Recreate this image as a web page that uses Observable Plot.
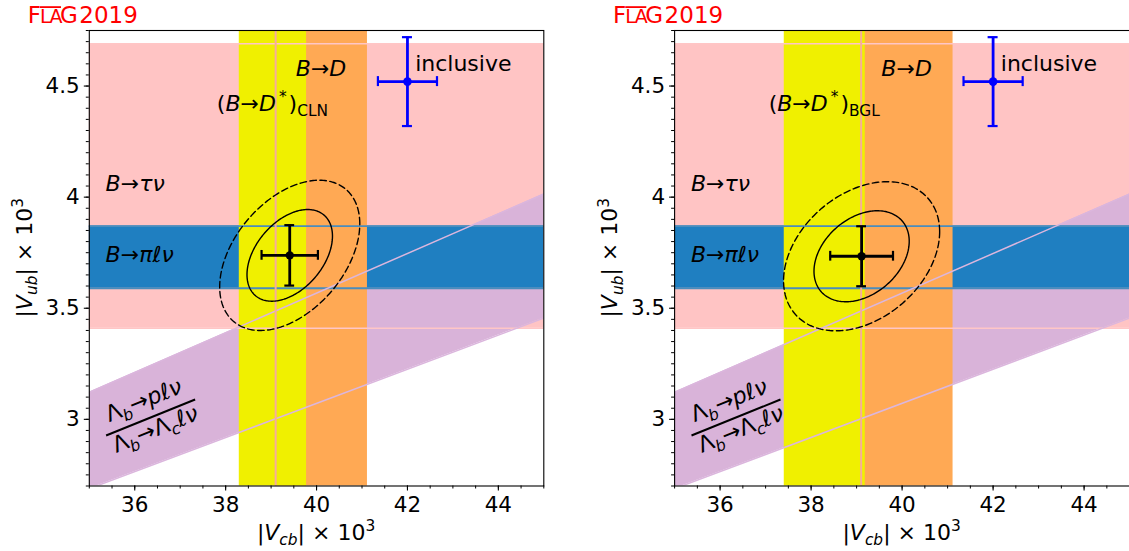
<!DOCTYPE html>
<html><head><meta charset="utf-8">
<script src="https://cdn.jsdelivr.net/npm/d3@7"></script>
<script src="https://cdn.jsdelivr.net/npm/@observablehq/plot@0.6"></script>
<style>
html,body{margin:0;padding:0;background:#fff;overflow:hidden;}
#wrap{position:relative;width:1129px;height:551px;overflow:hidden;}
#wrap svg{position:absolute;top:0;}
</style></head><body><div id="wrap"></div>
<script>
// ---------- data ----------
const xDomain = [35, 45];
const yDomain = [2.7, 4.75];
const xMajorTicks = [36, 38, 40, 42, 44];
const xMajorLabels = ["36", "38", "40", "42", "44"];
const yMajorTicks = [3, 3.5, 4, 4.5];
const yMajorLabels = ["3", "3.5", "4", "4.5"];

const panelNames = ["CLN", "BGL"];
// (B→D*) band per panel (|Vcb| x 1e3)
const bDstarLow = [38.30, 37.41];
const bDstarHigh = [39.78, 39.19];
// B→D band
const bDLow = 39.10, bDHigh = 41.12;
// B→τν and B→πℓν bands (|Vub| x 1e3)
const tauNuLow = 3.41, tauNuHigh = 4.69;
const piLNuLow = 3.59, piLNuHigh = 3.87;
// Λb ratio |Vub|/|Vcb|
const lambdaRatioLow = 0.0768, lambdaRatioHigh = 0.0892;
const lambdaX = [35, 45];
// inclusive point
const inclVcb = 42.00, inclVcbErr = 0.65;
const inclVub = 4.52, inclVubErr = 0.20;
// fit point per panel
const fitVcb = [39.41, 39.11];
const fitVcbErr = [0.62, 0.69];
const fitVub = [3.738, 3.734];
const fitVubErr = [0.136, 0.135];
const fitRho = [0.42, 0.33];
const contourChi2 = [2.30, 6.18];

// ---------- helpers ----------
const FONT = "DejaVu Sans";
function rich(textSel, parts, fs) {
  let shift = 0;
  for (const p of parts) {
    const ts = textSel.append("tspan").text(p.t);
    let target = 0, size = fs;
    if (p.sub) { target = 0.24 * fs; size = 0.7 * fs; }
    if (p.sup) { target = -0.4 * fs; size = 0.7 * fs; }
    if (target !== shift) ts.attr("dy", target - shift);
    shift = target;
    ts.attr("font-size", size);
    if (p.i) ts.attr("font-style", "italic");
    if (p.dx) ts.attr("dx", p.dx);
  }
}
function ellipse(i, chi2) {
  const k = Math.sqrt(chi2), pts = [];
  const r = fitRho[i], s = Math.sqrt(1 - r * r);
  for (let j = 0; j <= 240; j++) {
    const t = 2 * Math.PI * j / 240;
    pts.push({
      x: fitVcb[i] + k * fitVcbErr[i] * Math.cos(t),
      y: fitVub[i] + k * fitVubErr[i] * (r * Math.cos(t) + s * Math.sin(t))
    });
  }
  return pts;
}

function panel(i, width, mLeft, mRight, left) {
  const full = {y1: () => yDomain[0], y2: () => yDomain[1]};
  const fullX = {x1: () => xDomain[0], x2: () => xDomain[1]};
  const cx = fitVcb[i], cy = fitVub[i];
  const p = Plot.plot({
    width, height: 551,
    marginLeft: mLeft, marginRight: mRight, marginTop: 30, marginBottom: 65.5,
    x: {domain: xDomain}, y: {domain: yDomain},
    style: {fontFamily: FONT, fontSize: "21.5px", color: "black", background: "white", overflow: "visible"},
    marks: [
      // bands
      Plot.rect([0], {...fullX, y1: () => tauNuLow, y2: () => tauNuHigh, fill: "#ffc4c4"}),
      Plot.areaY(lambdaX, {x: d => d, y1: d => lambdaRatioLow * d, y2: d => lambdaRatioHigh * d, fill: "#d9b3d9", clip: true}),
      Plot.rect([0], {...fullX, y1: () => piLNuLow, y2: () => piLNuHigh, fill: "#1f7fc1"}),
      Plot.rect([0], {x1: () => bDLow, x2: () => bDHigh, ...full, fill: "#ffa954"}),
      Plot.rect([0], {x1: () => bDstarLow[i], x2: () => bDstarHigh[i], ...full, fill: "#f0f000"}),
      // band edges
      Plot.ruleY([tauNuLow, tauNuHigh], {stroke: "#ffc6c6", strokeWidth: 1.5}),
      Plot.ruleY([piLNuLow, piLNuHigh], {stroke: "#4a8dbd", strokeWidth: 1.8}),
      Plot.line(lambdaX, {x: d => d, y: d => lambdaRatioLow * d, stroke: "#dbb6dd", strokeWidth: 1.5, clip: true}),
      Plot.line(lambdaX, {x: d => d, y: d => lambdaRatioHigh * d, stroke: "#dbb6dd", strokeWidth: 1.5, clip: true}),
      Plot.ruleX([bDLow], {stroke: "#f6ac9c", strokeWidth: 2}),
      // contours
      Plot.line(ellipse(i, contourChi2[0]), {x: "x", y: "y", stroke: "black", strokeWidth: 1.4, clip: true}),
      Plot.line(ellipse(i, contourChi2[1]), {x: "x", y: "y", stroke: "black", strokeWidth: 1.4, strokeDasharray: "6.5,3.5", clip: true}),
      // fit point with error bars
      Plot.ruleX([0], {x: () => cx, y1: () => cy - fitVubErr[i], y2: () => cy + fitVubErr[i], stroke: "black", strokeWidth: 2.8}),
      Plot.ruleY([0], {y: () => cy, x1: () => cx - fitVcbErr[i], x2: () => cx + fitVcbErr[i], stroke: "black", strokeWidth: 2.8}),
      Plot.ruleY([cy - fitVubErr[i], cy + fitVubErr[i]], {y: d => d, x1: () => cx, x2: () => cx, insetLeft: -4.9, insetRight: -4.9, stroke: "black", strokeWidth: 2.2}),
      Plot.ruleX([cx - fitVcbErr[i], cx + fitVcbErr[i]], {x: d => d, y1: () => cy, y2: () => cy, insetTop: -4.9, insetBottom: -4.9, stroke: "black", strokeWidth: 2.2}),
      Plot.dot([0], {x: () => cx, y: () => cy, r: 4.2, fill: "black"}),
      // inclusive point
      Plot.ruleX([0], {x: () => inclVcb, y1: () => inclVub - inclVubErr, y2: () => inclVub + inclVubErr, stroke: "#0000ff", strokeWidth: 2.8}),
      Plot.ruleY([0], {y: () => inclVub, x1: () => inclVcb - inclVcbErr, x2: () => inclVcb + inclVcbErr, stroke: "#0000ff", strokeWidth: 2.8}),
      Plot.ruleY([inclVub - inclVubErr, inclVub + inclVubErr], {y: d => d, x1: () => inclVcb, x2: () => inclVcb, insetLeft: -5, insetRight: -5, stroke: "#0000ff", strokeWidth: 2.2}),
      Plot.ruleX([inclVcb - inclVcbErr, inclVcb + inclVcbErr], {x: d => d, y1: () => inclVub, y2: () => inclVub, insetTop: -5, insetBottom: -5, stroke: "#0000ff", strokeWidth: 2.2}),
      Plot.dot([0], {x: () => inclVcb, y: () => inclVub, r: 4.3, fill: "#0000ff"}),
      // frame & axes
      Plot.frame({stroke: "black", strokeWidth: 1.1}),
      Plot.axisX(d3.range(35, 45.01, 0.5), {tickSize: 3, strokeWidth: 1, fill: "none", label: null}),
      Plot.axisY(d3.range(2.7, 4.7501, 0.05), {tickSize: 3, strokeWidth: 1, fill: "none", label: null}),
      Plot.axisX(xMajorTicks, {tickSize: 5, tickPadding: 5.5, strokeWidth: 1.1, fontSize: 21.5, label: null,
        tickFormat: d => xMajorLabels[xMajorTicks.indexOf(d)]}),
      Plot.axisY(yMajorTicks, {tickSize: 5, tickPadding: 4.5, strokeWidth: 1.1, fontSize: 21.5, label: null,
        tickFormat: d => yMajorLabels[yMajorTicks.indexOf(d)]})
    ]
  });
  p.style.left = left + "px";
  document.getElementById("wrap").appendChild(p);

  const X = p.scale("x"), Y = p.scale("y");
  const svg = d3.select(p);
  const fs = 22;
  function txt(x, y, parts, anchor = "start") {
    const t = svg.append("text").attr("x", X.apply(x)).attr("y", Y.apply(y))
      .attr("text-anchor", anchor).attr("font-family", FONT).attr("font-size", fs).attr("fill", "black");
    rich(t, parts, fs);
    return t;
  }
  // band labels
  txt((bDLow + bDHigh) / 2, 4.545, [{t: "B", i: 1}, {t: "→"}, {t: "D", i: 1}], "middle");
  txt((bDstarLow[i] + bDstarHigh[i]) / 2, 4.385,
    [{t: "("}, {t: "B", i: 1}, {t: "→"}, {t: "D", i: 1}, {t: "*", sup: 1, dx: 3}, {t: ")", dx: 2}, {t: panelNames[i], sub: 1}], "middle");
  txt(42.18, 4.565, [{t: "inclusive"}]);
  txt(35.37, 4.025, [{t: "B", i: 1}, {t: "→"}, {t: "τν", i: 1}]);
  txt(35.37, 3.706, [{t: "B", i: 1}, {t: "→"}, {t: "πℓν", i: 1}]);
  // fraction label
  const g = svg.append("g").attr("transform", `translate(${X.apply(36.36)},${Y.apply(3.006)}) rotate(-22)`)
    .attr("font-family", FONT).attr("font-size", 22.5);
  const num = g.append("text").attr("x", 0).attr("y", -11).attr("text-anchor", "middle");
  rich(num, [{t: "Λ"}, {t: "b", sub: 1, i: 1}, {t: "→"}, {t: "pℓν", i: 1}], 22.5);
  g.append("line").attr("x1", -48).attr("x2", 48).attr("y1", 0).attr("y2", 0).attr("stroke", "black").attr("stroke-width", 2);
  const den = g.append("text").attr("x", 0).attr("y", 20).attr("text-anchor", "middle");
  rich(den, [{t: "Λ"}, {t: "b", sub: 1, i: 1}, {t: "→"}, {t: "Λ"}, {t: "c", sub: 1, i: 1}, {t: "ℓν", i: 1}], 22.5);

  // axis labels
  const xr = X.range, yr = Y.range;
  const xl = svg.append("text").attr("x", (xr[0] + xr[1]) / 2).attr("y", 540).attr("text-anchor", "middle")
    .attr("font-family", FONT).attr("font-size", fs);
  rich(xl, [{t: "|"}, {t: "V", i: 1}, {t: "cb", sub: 1, i: 1}, {t: "| × 10"}, {t: "3", sup: 1}], fs);
  const yl = svg.append("text").attr("transform", `translate(${xr[0] - 56.7},${(yr[0] + yr[1]) / 2}) rotate(-90)`)
    .attr("text-anchor", "middle").attr("font-family", FONT).attr("font-size", fs);
  rich(yl, [{t: "|"}, {t: "V", i: 1}, {t: "ub", sub: 1, i: 1}, {t: "| × 10"}, {t: "3", sup: 1}], fs);

  // FLAG logo
  const fx = xr[0] - 6, fy = 22.7;
  const fl = svg.append("text").attr("x", fx).attr("y", fy).attr("font-family", FONT)
    .attr("font-size", 23).attr("fill", "#ff0000");
  fl.append("tspan").attr("letter-spacing", -1).text("F");
  fl.append("tspan").attr("font-size", 19).attr("letter-spacing", -1.5).text("LA");
  fl.append("tspan").attr("letter-spacing", 1.5).attr("dx", -1).text("G");
  fl.append("tspan").text("2019");
  const node = fl.node();
  const sx = node.getStartPositionOfChar(1).x, ex = node.getEndPositionOfChar(2).x;
  svg.append("line").attr("x1", sx).attr("x2", ex).attr("y1", fy - 15.6).attr("y2", fy - 15.6)
    .attr("stroke", "#ff0000").attr("stroke-width", 1.8);
}

panel(0, 564, 88.8, 20.7, 0);
panel(1, 566, 110.1, 0.9, 564);
</script></body></html>
